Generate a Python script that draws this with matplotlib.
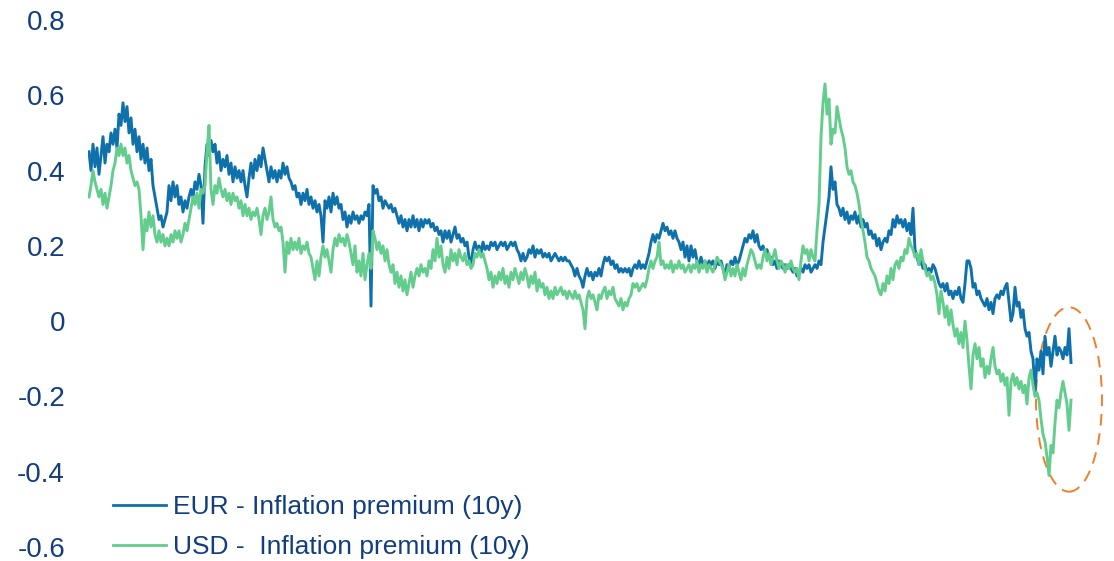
import numpy as np
import matplotlib
matplotlib.use("Agg")
from matplotlib import pyplot as plt
from matplotlib.patches import Ellipse

eur_premium = [
    0.45, 0.40, 0.47, 0.41, 0.46, 0.39, 0.44, 0.49, 0.42, 0.47, 0.45, 0.50, 0.47, 0.51, 0.46, 0.55,
    0.52, 0.58, 0.53, 0.57, 0.50, 0.54, 0.47, 0.51, 0.45, 0.49, 0.43, 0.47, 0.42, 0.46, 0.40, 0.43,
    0.36, 0.33, 0.30, 0.27, 0.28, 0.25, 0.27, 0.29, 0.36, 0.32, 0.37, 0.33, 0.36, 0.31, 0.33, 0.29,
    0.32, 0.30, 0.33, 0.35, 0.33, 0.37, 0.35, 0.39, 0.36,
    0.26, 0.41, 0.47, 0.44, 0.48, 0.45, 0.47, 0.42, 0.45, 0.40, 0.43, 0.41, 0.44, 0.39, 0.42, 0.37,
    0.41, 0.38, 0.40, 0.37, 0.40, 0.36, 0.33, 0.38, 0.42,
    0.38, 0.43, 0.40, 0.44, 0.41, 0.46, 0.43, 0.40, 0.37, 0.41, 0.38, 0.40, 0.37, 0.40, 0.38, 0.42,
    0.39, 0.41, 0.38, 0.37, 0.35, 0.36, 0.33, 0.34, 0.31,
    0.34, 0.32, 0.35, 0.31, 0.33, 0.30, 0.32, 0.29, 0.31, 0.28, 0.21, 0.32, 0.30, 0.33, 0.29, 0.34,
    0.31, 0.33, 0.30, 0.31, 0.27, 0.29, 0.25, 0.28, 0.26,
    0.29, 0.27, 0.28, 0.26, 0.28, 0.27, 0.29, 0.28, 0.31, 0.04, 0.36, 0.34, 0.35, 0.32, 0.33, 0.30,
    0.32, 0.31, 0.30, 0.31, 0.29, 0.30, 0.28, 0.26, 0.28,
    0.25, 0.27, 0.24, 0.27, 0.25, 0.28, 0.25, 0.27, 0.24, 0.27, 0.25, 0.27, 0.26, 0.27, 0.25, 0.26,
    0.24, 0.25, 0.23, 0.24, 0.21, 0.24, 0.22, 0.24, 0.21,
    0.23, 0.25, 0.22, 0.23, 0.21, 0.22, 0.20, 0.21, 0.17, 0.15, 0.19, 0.21, 0.19, 0.20, 0.18, 0.21,
    0.19, 0.20, 0.19, 0.21, 0.20, 0.21, 0.19, 0.20, 0.21,
    0.20, 0.21, 0.19, 0.20, 0.21, 0.20, 0.21, 0.19, 0.18, 0.16, 0.18, 0.16, 0.17, 0.19, 0.18, 0.20,
    0.17, 0.19, 0.18, 0.19, 0.17, 0.18, 0.17, 0.18, 0.16,
    0.17, 0.18, 0.17, 0.16, 0.17, 0.16, 0.17, 0.16, 0.16, 0.15, 0.14, 0.12, 0.14, 0.12, 0.11, 0.09,
    0.12, 0.14, 0.12, 0.13, 0.11, 0.13, 0.12, 0.14, 0.12,
    0.15, 0.17, 0.16, 0.17, 0.15, 0.16, 0.14, 0.15, 0.13, 0.14, 0.13, 0.14, 0.13, 0.14, 0.12, 0.14,
    0.15, 0.14, 0.16, 0.14, 0.15, 0.14, 0.16, 0.18, 0.21,
    0.23, 0.21, 0.23, 0.22, 0.24, 0.26, 0.24, 0.25, 0.23, 0.24, 0.22, 0.24, 0.22, 0.21, 0.19, 0.21,
    0.17, 0.20, 0.16, 0.20, 0.17, 0.19, 0.16, 0.15, 0.17,
    0.15, 0.16, 0.14, 0.16, 0.15, 0.16, 0.14, 0.16, 0.15, 0.16, 0.14, 0.12, 0.15, 0.14, 0.16, 0.15,
    0.17, 0.15, 0.16, 0.18, 0.20, 0.22, 0.21, 0.23, 0.22,
    0.24, 0.21, 0.23, 0.20, 0.19, 0.20, 0.18, 0.19, 0.17, 0.17, 0.15, 0.16, 0.14, 0.16, 0.15, 0.14,
    0.15, 0.14, 0.15, 0.14, 0.13, 0.14, 0.12, 0.13, 0.14,
    0.13, 0.15, 0.14, 0.15, 0.13, 0.14, 0.15, 0.14, 0.16, 0.15, 0.21, 0.25, 0.29, 0.33, 0.41, 0.35,
    0.37, 0.31, 0.30, 0.28, 0.30, 0.27, 0.29, 0.26, 0.28,
    0.27, 0.29, 0.26, 0.28, 0.25, 0.27, 0.25, 0.26, 0.23, 0.24, 0.22, 0.23, 0.20, 0.22, 0.19, 0.21,
    0.22, 0.21, 0.24, 0.23, 0.27, 0.25, 0.28, 0.26, 0.27,
    0.25, 0.27, 0.24, 0.26, 0.23, 0.30, 0.19, 0.17, 0.15, 0.16, 0.14, 0.15, 0.13, 0.14, 0.13, 0.15,
    0.14, 0.12, 0.10, 0.09, 0.10, 0.08, 0.10, 0.07, 0.08,
    0.06, 0.08, 0.07, 0.09, 0.06, 0.05, 0.10, 0.16, 0.16, 0.14, 0.09, 0.10, 0.07, 0.08, 0.06, 0.05,
    0.04, 0.06, 0.03, 0.05, 0.02, 0.06, 0.07, 0.06, 0.08,
    0.07, 0.09, 0.10, 0.05, 0.00, 0.02, 0.09, 0.04, 0.05, 0.01, 0.03, -0.02, -0.04, -0.03, -0.08, -0.10,
    -0.19, -0.10, -0.13, -0.08, -0.14, -0.04, -0.09, -0.07, -0.12,
    -0.08, -0.04, -0.09, -0.07, -0.08, -0.10, -0.07, -0.09, -0.02, -0.11,
]

usd_premium = [
    0.33, 0.36, 0.40, 0.37, 0.35, 0.33, 0.35, 0.31, 0.34, 0.30, 0.33, 0.36, 0.40, 0.42, 0.46, 0.44,
    0.47, 0.44, 0.46, 0.42, 0.44, 0.40, 0.38, 0.36, 0.37, 0.35, 0.28, 0.19, 0.27, 0.24, 0.29, 0.25,
    0.28, 0.23, 0.21, 0.24, 0.21, 0.23, 0.20, 0.22, 0.20, 0.23, 0.21, 0.24, 0.22, 0.24, 0.21, 0.23,
    0.26, 0.24, 0.27, 0.30, 0.33, 0.31, 0.34, 0.30, 0.35,
    0.34, 0.36, 0.45, 0.52, 0.35, 0.31, 0.36, 0.34, 0.38, 0.35, 0.33, 0.35, 0.32, 0.34, 0.31, 0.34,
    0.32, 0.33, 0.30, 0.32, 0.28, 0.31, 0.28, 0.30, 0.27,
    0.29, 0.28, 0.30, 0.27, 0.23, 0.28, 0.30, 0.27, 0.29, 0.33, 0.27, 0.25, 0.26, 0.24, 0.25, 0.21,
    0.13, 0.21, 0.18, 0.22, 0.19, 0.21, 0.19, 0.22, 0.18,
    0.20, 0.19, 0.21, 0.18, 0.17, 0.14, 0.11, 0.16, 0.12, 0.17, 0.20, 0.17, 0.19, 0.16, 0.13, 0.19,
    0.22, 0.20, 0.23, 0.21, 0.22, 0.20, 0.23, 0.21, 0.18,
    0.15, 0.20, 0.13, 0.16, 0.12, 0.18, 0.11, 0.15, 0.18, 0.14, 0.24, 0.22, 0.19, 0.21, 0.18, 0.20,
    0.16, 0.19, 0.15, 0.13, 0.15, 0.10, 0.13, 0.09, 0.12,
    0.08, 0.11, 0.07, 0.10, 0.13, 0.09, 0.12, 0.14, 0.12, 0.15, 0.13, 0.14, 0.12, 0.16, 0.14, 0.19,
    0.16, 0.22, 0.17, 0.20, 0.15, 0.13, 0.17, 0.14, 0.19,
    0.16, 0.18, 0.15, 0.19, 0.17, 0.16, 0.18, 0.15, 0.16, 0.14, 0.15, 0.18, 0.17, 0.19, 0.17, 0.18,
    0.16, 0.14, 0.11, 0.13, 0.09, 0.12, 0.10, 0.13, 0.11,
    0.14, 0.10, 0.12, 0.09, 0.13, 0.11, 0.14, 0.12, 0.10, 0.13, 0.11, 0.14, 0.12, 0.09, 0.12, 0.10,
    0.13, 0.08, 0.11, 0.09, 0.10, 0.07, 0.09, 0.06, 0.08,
    0.06, 0.09, 0.07, 0.08, 0.09, 0.07, 0.08, 0.06, 0.08, 0.07, 0.06, 0.08, 0.06, 0.07, 0.05, 0.03,
    -0.02, 0.06, 0.08, 0.06, 0.07, 0.05, 0.03, 0.07, 0.06,
    0.08, 0.09, 0.06, 0.08, 0.07, 0.09, 0.06, 0.05, 0.04, 0.06, 0.03, 0.05, 0.04, 0.06, 0.07, 0.10,
    0.09, 0.10, 0.08, 0.09, 0.10, 0.09, 0.11, 0.14, 0.16,
    0.14, 0.16, 0.17, 0.21, 0.15, 0.16, 0.14, 0.15, 0.14, 0.16, 0.13, 0.15, 0.14, 0.16, 0.14, 0.15,
    0.13, 0.14, 0.15, 0.13, 0.15, 0.14, 0.16, 0.13, 0.15,
    0.14, 0.16, 0.13, 0.15, 0.14, 0.13, 0.15, 0.17, 0.16, 0.15, 0.14, 0.11, 0.13, 0.15, 0.12, 0.14,
    0.12, 0.15, 0.13, 0.11, 0.14, 0.12, 0.15, 0.17, 0.19,
    0.18, 0.16, 0.14, 0.15, 0.14, 0.17, 0.19, 0.16, 0.18, 0.15, 0.17, 0.19, 0.16, 0.14, 0.16, 0.15,
    0.13, 0.15, 0.14, 0.16, 0.14, 0.13, 0.14, 0.11, 0.16,
    0.20, 0.18, 0.19, 0.16, 0.19, 0.17, 0.16, 0.24, 0.31, 0.49, 0.58, 0.63, 0.55, 0.59, 0.47, 0.51,
    0.50, 0.57, 0.54, 0.51, 0.49, 0.46, 0.41, 0.39, 0.40,
    0.37, 0.36, 0.34, 0.31, 0.27, 0.24, 0.21, 0.17, 0.16, 0.14, 0.13, 0.12, 0.10, 0.08, 0.07, 0.10,
    0.08, 0.12, 0.10, 0.14, 0.11, 0.15, 0.16, 0.14, 0.17,
    0.16, 0.19, 0.18, 0.22, 0.20, 0.19, 0.17, 0.18, 0.15, 0.19, 0.16, 0.14, 0.12, 0.13, 0.11, 0.12,
    0.10, 0.07, 0.02, 0.08, 0.05, 0.01, 0.04, -0.01, 0.03,
    -0.01, -0.04, -0.02, -0.06, -0.03, -0.07, 0.00, -0.05, -0.12, -0.18, -0.09, -0.06, -0.10, -0.07,
    -0.12, -0.10, -0.15, -0.12, -0.14, -0.10, -0.07, -0.12, -0.14, -0.13, -0.16,
    -0.14, -0.17, -0.15, -0.25, -0.16, -0.14, -0.17, -0.15, -0.18, -0.16, -0.19, -0.17, -0.22, -0.15,
    -0.13, -0.17, -0.20, -0.19, -0.21, -0.26, -0.30, -0.32, -0.36, -0.41, -0.33,
    -0.35, -0.27, -0.21, -0.23, -0.19, -0.16, -0.19, -0.22, -0.29, -0.21,
]

series_labels = ["EUR - Inflation premium (10y)", "USD -  Inflation premium (10y)"]
series_colors = ["#0F71AC", "#62CD8D"]
y_ticks = [-0.6, -0.4, -0.2, 0.0, 0.2, 0.4, 0.6, 0.8]
y_tick_labels = ["-0.6", "-0.4", "-0.2", "0", "0.2", "0.4", "0.6", "0.8"]

# highlighted recent window (orange ellipse), in observation units / values
n_obs = 491
highlight_centre = (490, -0.208)
highlight_size = (33, 0.49)

text_color = "#123E80"
plt.rcParams["font.family"] = ["Liberation Sans", "DejaVu Sans"]

W, H = 1114, 561
fig = plt.figure(figsize=(W / 100, H / 100), dpi=100)
ax = fig.add_axes([88 / W, (H - 547) / H, (1105 - 88) / W, (547 - 20) / H])

px_per_obs = (1071 - 89) / n_obs
for vals, lab, col in zip([eur_premium, usd_premium], series_labels, series_colors):
    x = np.linspace(0, n_obs, len(vals))
    ax.plot(x, vals, color=col, lw=2.1, label=lab, solid_joinstyle="round")

ax.set_xlim(-1 / px_per_obs, (1105 - 89) / px_per_obs)
ax.set_ylim(-0.6, 0.8)
ax.set_yticks(y_ticks)
ax.set_yticklabels(y_tick_labels, fontsize=20, color=text_color)
ax.tick_params(axis="y", length=0, pad=16.5)
ax.set_xticks([])
for s in ax.spines.values():
    s.set_visible(False)

ell = Ellipse(highlight_centre, highlight_size[0], highlight_size[1], fill=False,
              edgecolor="#F07F2C", lw=1.4, linestyle=(0, (6, 4)), clip_on=False)
ax.add_patch(ell)

leg = fig.legend(loc="upper left", bbox_to_anchor=(113 / W, (H - 495) / H), frameon=False,
                 fontsize=19, handlelength=2.0, handletextpad=0.27, labelspacing=0.62,
                 borderpad=0, borderaxespad=0)
for t in leg.get_texts():
    t.set_color(text_color)
for line in leg.get_lines():
    line.set_linewidth(2.0)

fig.savefig("out.png", dpi=100)
